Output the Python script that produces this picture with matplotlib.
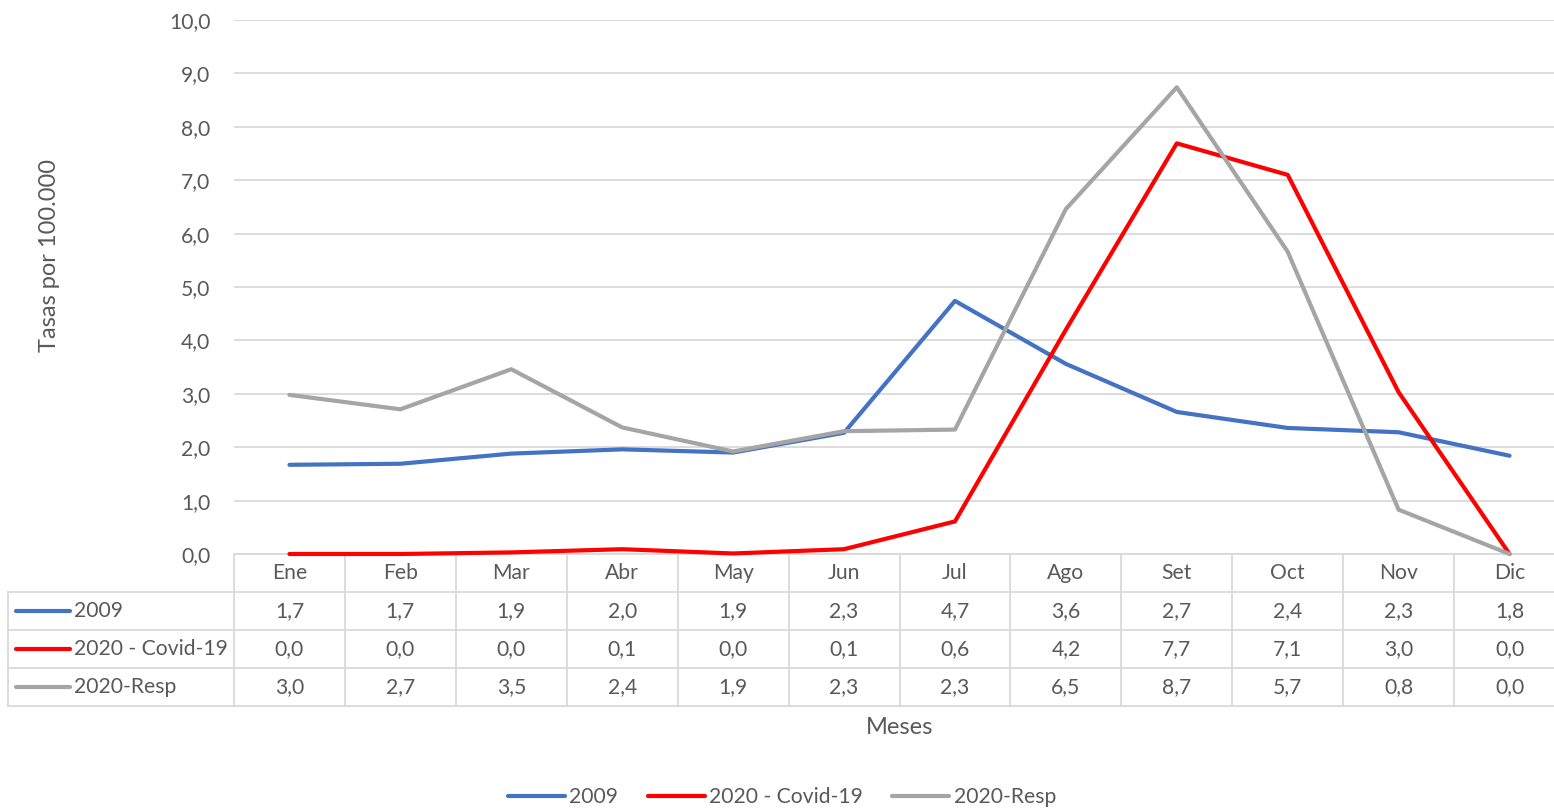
import matplotlib
matplotlib.use('Agg')
import matplotlib.pyplot as plt
from matplotlib.lines import Line2D

# monthly rates per 100.000
meses = ['Ene', 'Feb', 'Mar', 'Abr', 'May', 'Jun', 'Jul', 'Ago', 'Set', 'Oct', 'Nov', 'Dic']
s2009 = [1.67, 1.69, 1.88, 1.96, 1.90, 2.27, 4.74, 3.56, 2.66, 2.36, 2.28, 1.84]
covid = [0.0, 0.0, 0.03, 0.09, 0.01, 0.09, 0.61, 4.20, 7.69, 7.10, 3.03, 0.0]
resp = [2.98, 2.71, 3.46, 2.37, 1.92, 2.30, 2.33, 6.46, 8.74, 5.66, 0.83, 0.0]

names = ['2009', '2020 - Covid-19', '2020-Resp']
series = [s2009, covid, resp]
colors = ['#4472C4', '#FF0000', '#A5A5A5']

txt = '#595959'
grid = '#D9D9D9'
plt.rcParams['font.family'] = ['Lato', 'DejaVu Sans']
fs = 15.2
fs_title = 17

W, H = 1554, 808
fig = plt.figure(figsize=(W / 100, H / 100), dpi=100)
x0, x1, y0, y1 = 234, 1565, 554, 20
ax = fig.add_axes([x0 / W, (H - y0) / H, (x1 - x0) / W, (y0 - y1) / H])

xs = list(range(len(meses)))
for s, c in zip(series, colors):
    ax.plot(xs, s, color=c, lw=3, solid_capstyle='round', solid_joinstyle='round', zorder=3, clip_on=False)

ax.set_xlim(-0.5, len(meses) - 0.5)
ax.set_ylim(0, 10)
ax.set_yticks(range(11))
ax.set_yticklabels([f'{v},0' for v in range(11)], color=txt, fontsize=fs)
ax.tick_params(axis='y', length=0, pad=17)
ax.set_xticks([])
ax.grid(axis='y', color=grid, lw=1.3)
ax.set_axisbelow(True)
for sp in ['left', 'right', 'top']:
    ax.spines[sp].set_visible(False)
ax.spines['bottom'].set_color(grid)
ax.spines['bottom'].set_linewidth(1.3)

# data table under the axis (rows of 38 px)
ppu = (y0 - y1) / 10.0
rh = 38 / ppu
unit = (x1 - x0) / len(meses)
left = -0.5 - (x0 - 8) / unit
nrows = len(series) + 1
kw = dict(color=grid, lw=1.3, clip_on=False)
for i in range(1, nrows + 1):
    ax.plot([left, len(meses) - 0.5], [-rh * i, -rh * i], **kw)
for j in range(len(meses) + 1):
    ax.plot([j - 0.5, j - 0.5], [0, -rh * nrows], **kw)
ax.plot([left, left], [-rh, -rh * nrows], **kw)

for j, m in enumerate(meses):
    ax.text(j, -rh * 0.5, m, ha='center', va='center', color=txt, fontsize=fs)
for i, (n, s, c) in enumerate(zip(names, series, colors)):
    yy = -rh * (i + 1.5)
    ax.plot([left + 8 / unit, left + 62 / unit], [yy, yy], color=c, lw=3,
            solid_capstyle='round', clip_on=False)
    ax.text(left + 66 / unit, yy, n, ha='left', va='center', color=txt, fontsize=fs)
    for j, v in enumerate(s):
        ax.text(j, yy, f'{v:.1f}'.replace('.', ','), ha='center', va='center', color=txt, fontsize=fs)

fig.text((x0 + x1) / 2 / W, 1 - 728 / H, 'Meses', ha='center', va='center', color=txt, fontsize=fs_title)
fig.text(50 / W, 1 - 256 / H, 'Tasas por 100.000', ha='center', va='center', rotation=90,
         color=txt, fontsize=fs_title)

handles = [Line2D([], [], color=c, lw=3, solid_capstyle='round') for c in colors]
fig.legend(handles, names, loc='center', bbox_to_anchor=(782 / W, 1 - 797 / H), ncol=3,
           frameon=False, fontsize=fs, labelcolor=txt, handlelength=2.7, handletextpad=0.2,
           columnspacing=1.4)

fig.savefig('out.png', dpi=100)
